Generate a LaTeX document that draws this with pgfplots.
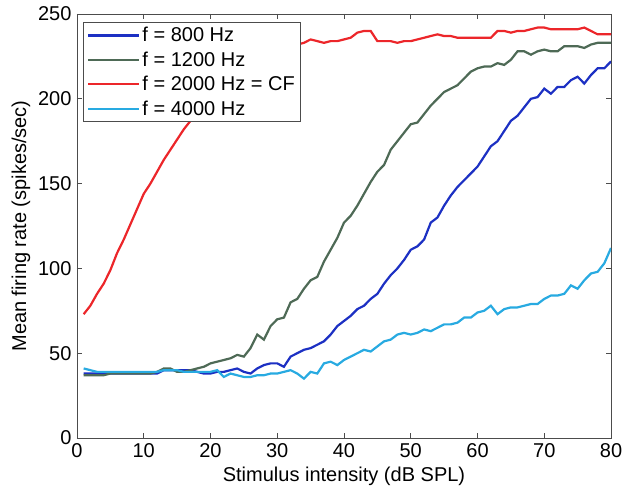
\documentclass[border=0pt]{standalone}
\usepackage{pgfplots}
\pgfplotsset{compat=1.18}
\usepackage{fontspec}
\setmainfont{Liberation Sans}
\definecolor{cblue}{RGB}{28,48,195}
\definecolor{cgreen}{RGB}{78,106,86}
\definecolor{cred}{RGB}{236,38,42}
\definecolor{ccyan}{RGB}{40,170,225}
\begin{document}
\begin{tikzpicture}
\begin{axis}[
  width=534pt, height=424pt, scale only axis,
  xmin=0, xmax=80, ymin=0, ymax=250,
  xtick={0,10,...,80}, ytick={0,50,...,250},
  tick align=inside, tick pos=both,
  major tick length=5pt,
  axis line style={black!70, line width=0.8pt},
  every tick/.style={black!70, line width=0.8pt},
  /pgf/number format/assume math mode=true,
  tick label style={font=\fontsize{20}{24}\selectfont},
  label style={font=\fontsize{20}{24}\selectfont},
  xlabel={Stimulus intensity (dB SPL)},
  ylabel={Mean firing rate (spikes/sec)},
  xticklabel style={yshift=-2pt},
  yticklabel style={xshift=-2pt},
  xlabel style={yshift=-2pt},
  ylabel style={yshift=1pt},
  legend style={at={(0.011,0.981)}, anchor=north west, draw=black!70, line width=0.8pt,
    font=\fontsize{20}{24}\selectfont, inner xsep=4pt, inner ysep=3pt, row sep=4.5pt},
  legend cell align=left,
  legend image code/.code={\path (0pt,0pt) -- (8pt,0pt); \draw[#1] (8pt,0pt) -- (51pt,0pt);},
]
\addplot[cblue, line width=2.2pt] coordinates {
(1,38)(2,38)(3,38)(4,38)(5,38)(6,38)(7,38)(8,38)(9,38)(10,38)
(11,38)(12,38)(13,40)(14,40)(15,40)(16,40)(17,40)(18,39)(19,38)(20,38)
(21,39)(22,39)(23,40)(24,41)(25,39)(26,38)(27,41)(28,43)(29,44)(30,44)
(31,42)(32,48)(33,50)(34,52)(35,53)(36,55)(37,57)(38,61)(39,66)(40,69)
(41,72)(42,76)(43,78)(44,82)(45,85)(46,91)(47,96)(48,100)(49,105)(50,111)
(51,113)(52,117)(53,127)(54,130)(55,137)(56,143)(57,148)(58,152)(59,156)(60,160)
(61,166)(62,172)(63,175)(64,181)(65,187)(66,190)(67,195)(68,200)(69,201)(70,206)
(71,203)(72,207)(73,207)(74,211)(75,213)(76,209)(77,214)(78,218)(79,218)(80,222)
};
\addlegendentry{f = 800 Hz}
\addplot[cgreen, line width=2.2pt] coordinates {
(1,37)(2,37)(3,37)(4,37)(5,38)(6,38)(7,38)(8,38)(9,38)(10,38)
(11,38)(12,39)(13,41)(14,41)(15,39)(16,39)(17,40)(18,41)(19,42)(20,44)
(21,45)(22,46)(23,47)(24,49)(25,48)(26,53)(27,61)(28,58)(29,66)(30,70)
(31,71)(32,80)(33,82)(34,88)(35,93)(36,95)(37,104)(38,111)(39,118)(40,127)
(41,131)(42,137)(43,144)(44,151)(45,157)(46,161)(47,170)(48,175)(49,180)(50,185)
(51,186)(52,191)(53,196)(54,200)(55,204)(56,206)(57,208)(58,212)(59,216)(60,218)
(61,219)(62,219)(63,221)(64,220)(65,223)(66,228)(67,228)(68,226)(69,228)(70,229)
(71,228)(72,228)(73,231)(74,231)(75,231)(76,230)(77,232)(78,233)(79,233)(80,233)
};
\addlegendentry{f = 1200 Hz}
\addplot[cred, line width=2.2pt] coordinates {
(1,73)(2,78)(3,85)(4,91)(5,99)(6,109)(7,117)(8,126)(9,135)(10,144)
(11,150)(12,157)(13,164)(14,170)(15,176)(16,182)(17,187)(18,193)(19,198)(20,203)
(21,208)(22,212)(23,216)(24,220)(25,223)(26,225)(27,227)(28,229)(29,230)(30,231)
(31,232)(32,231)(33,232)(34,233)(35,235)(36,234)(37,233)(38,234)(39,234)(40,235)
(41,236)(42,239)(43,240)(44,240)(45,234)(46,234)(47,234)(48,233)(49,234)(50,234)
(51,235)(52,236)(53,237)(54,238)(55,237)(56,237)(57,236)(58,236)(59,236)(60,236)
(61,236)(62,236)(63,240)(64,240)(65,239)(66,240)(67,240)(68,241)(69,242)(70,242)
(71,241)(72,241)(73,241)(74,241)(75,241)(76,242)(77,240)(78,238)(79,238)(80,238)
};
\addlegendentry{f = 2000 Hz = CF}
\addplot[ccyan, line width=2.2pt] coordinates {
(1,41)(2,40)(3,39)(4,39)(5,39)(6,39)(7,39)(8,39)(9,39)(10,39)
(11,39)(12,39)(13,40)(14,40)(15,40)(16,39)(17,39)(18,39)(19,39)(20,39)
(21,40)(22,36)(23,38)(24,37)(25,36)(26,36)(27,37)(28,37)(29,38)(30,38)
(31,39)(32,40)(33,38)(34,35)(35,39)(36,38)(37,44)(38,45)(39,43)(40,46)
(41,48)(42,50)(43,52)(44,51)(45,54)(46,57)(47,58)(48,61)(49,62)(50,61)
(51,62)(52,64)(53,63)(54,65)(55,67)(56,67)(57,68)(58,71)(59,71)(60,74)
(61,75)(62,78)(63,73)(64,76)(65,77)(66,77)(67,78)(68,79)(69,79)(70,82)
(71,84)(72,84)(73,85)(74,90)(75,88)(76,93)(77,97)(78,98)(79,103)(80,112)
};
\addlegendentry{f = 4000 Hz}
\end{axis}
\pgfresetboundingbox
\path[use as bounding box] (current axis.south west) ++(-77pt,-49pt) rectangle ++(623pt,487pt);
\end{tikzpicture}
\end{document}
